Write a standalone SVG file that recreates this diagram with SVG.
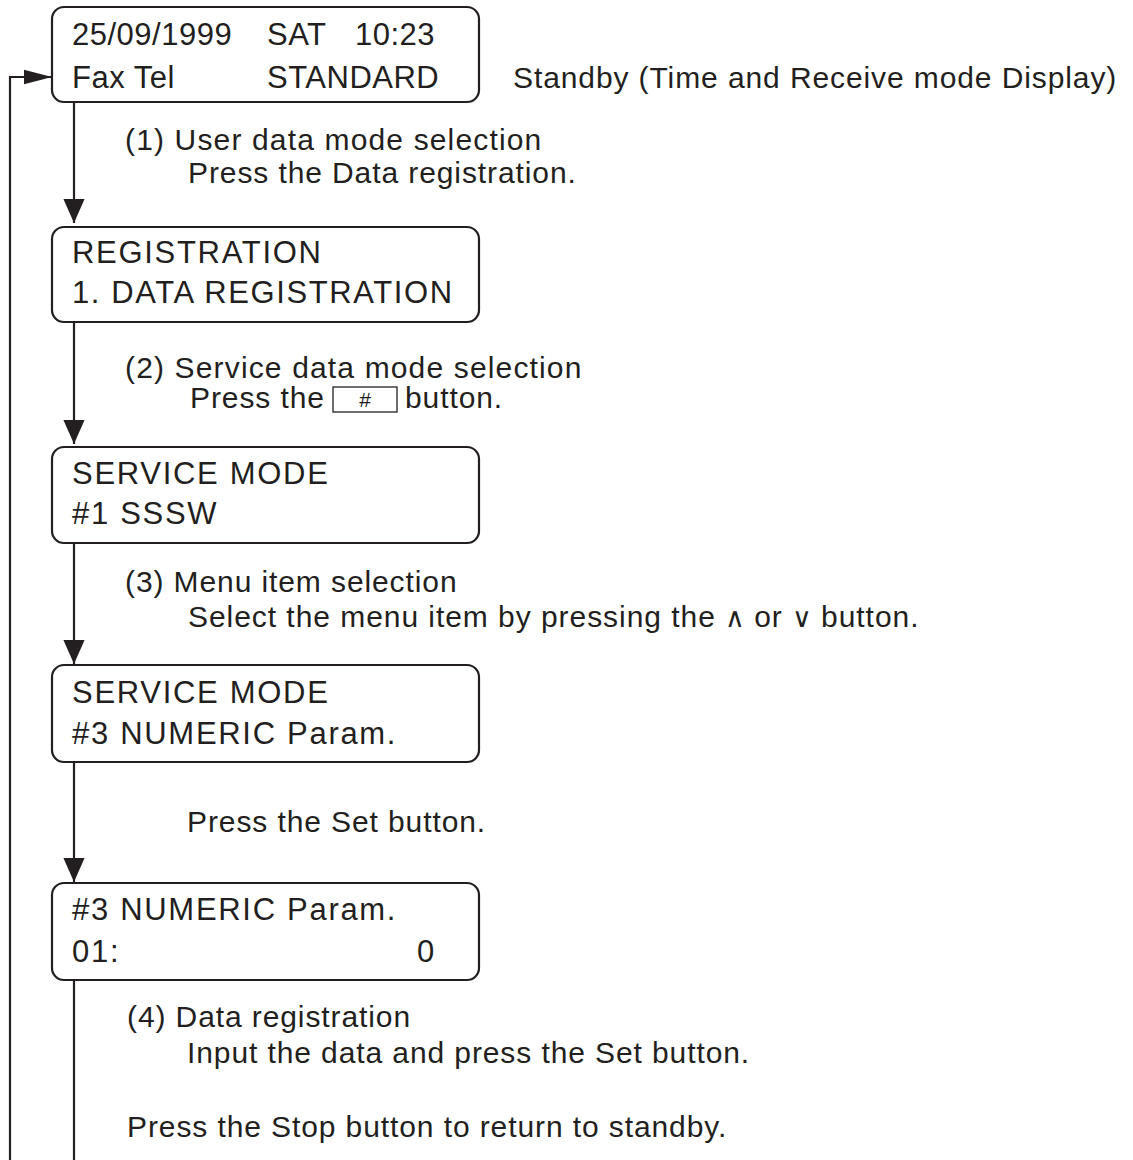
<svg xmlns="http://www.w3.org/2000/svg" width="1133" height="1160" viewBox="0 0 1133 1160">
<style>
.box{fill:#fff;stroke:#231f20;stroke-width:2.2}
.bt{font-family:"Liberation Sans",Arial,sans-serif;font-size:31px;letter-spacing:0.5px;fill:#231f20}
.bw{letter-spacing:1.7px}
.dt{font-family:"Liberation Sans",Arial,sans-serif;font-size:30px;letter-spacing:0.9px;fill:#231f20}
.dw{letter-spacing:1.15px}
.ln{fill:none;stroke:#231f20;stroke-width:2.2}
.sym{font-family:"DejaVu Sans",sans-serif;font-size:27px;letter-spacing:0}
</style>
<defs>
<marker id="ah" markerUnits="userSpaceOnUse" markerWidth="24" markerHeight="28" refX="25" refY="11" orient="auto" viewBox="0 0 25 22">
<path d="M0,0 L25,11 L0,22 Z" fill="#231f20"/>
</marker>
<marker id="ahs" markerUnits="userSpaceOnUse" markerWidth="28" markerHeight="16" refX="27" refY="7" orient="auto" viewBox="0 0 27 14">
<path d="M0,0 L27,7 L0,14 Z" fill="#231f20"/>
</marker>
</defs>
<g id="connectors">
<line class="ln" x1="74" y1="102" x2="74" y2="223" marker-end="url(#ah)"/>
<line class="ln" x1="74" y1="322" x2="74" y2="444" marker-end="url(#ah)"/>
<line class="ln" x1="74" y1="543" x2="74" y2="664" marker-end="url(#ah)"/>
<line class="ln" x1="74" y1="762" x2="74" y2="882" marker-end="url(#ah)"/>
<line class="ln" x1="74" y1="980" x2="74" y2="1160"/>
<path class="ln" d="M10,1160 V77 H52" marker-end="url(#ahs)"/>
</g>
<g id="standby">
<rect class="box" x="52" y="7" width="427" height="95" rx="12"/>
<text class="bt" x="72" y="45">25/09/1999</text>
<text class="bt" x="267" y="45">SAT</text>
<text class="bt" x="355" y="45">10:23</text>
<text class="bt" x="72" y="88">Fax Tel</text>
<text class="bt" x="267" y="88">STANDARD</text>
</g>
<text class="dt" x="513" y="88">Standby (Time and Receive mode Display)</text>
<g id="label1">
<text class="dt dw" x="125" y="150">(1) User data mode selection</text>
<text class="dt" x="188" y="183">Press the Data registration.</text>
</g>
<g id="registration">
<rect class="box" x="52" y="227" width="427" height="95" rx="12"/>
<text class="bt bw" x="72" y="263">REGISTRATION</text>
<text class="bt" x="72" y="303" style="letter-spacing:1.6px">1. DATA REGISTRATION</text>
</g>
<g id="label2">
<text class="dt dw" x="125" y="378">(2) Service data mode selection</text>
<text class="dt" x="190" y="408">Press the</text>
<rect x="333" y="387" width="64" height="25" fill="#fff" stroke="#231f20" stroke-width="1.3"/>
<text x="365" y="407" text-anchor="middle" font-family="Liberation Sans,Arial,sans-serif" font-size="21" fill="#231f20">#</text>
<text class="dt" x="405" y="408">button.</text>
</g>
<g id="service1">
<rect class="box" x="52" y="447" width="427" height="96" rx="12"/>
<text class="bt bw" x="72" y="484">SERVICE MODE</text>
<text class="bt bw" x="72" y="524">#1 SSSW</text>
</g>
<g id="label3">
<text class="dt" x="125" y="592">(3) Menu item selection</text>
<text class="dt" x="188" y="627" style="letter-spacing:0.95px">Select the menu item by pressing the <tspan class="sym">∧</tspan> or <tspan class="sym">∨</tspan> button.</text>
</g>
<g id="service3">
<rect class="box" x="52" y="665" width="427" height="97" rx="12"/>
<text class="bt bw" x="72" y="703">SERVICE MODE</text>
<text class="bt bw" x="72" y="744">#3 NUMERIC Param.</text>
</g>
<text class="dt" x="187" y="832">Press the Set button.</text>
<g id="numeric">
<rect class="box" x="52" y="883" width="427" height="97" rx="12"/>
<text class="bt bw" x="72" y="920">#3 NUMERIC Param.</text>
<text class="bt bw" x="72" y="962">01:</text>
<text class="bt" x="417" y="962">0</text>
</g>
<g id="label4">
<text class="dt" x="127" y="1027">(4) Data registration</text>
<text class="dt" x="187" y="1063">Input the data and press the Set button.</text>
<text class="dt" x="127" y="1137">Press the Stop button to return to standby.</text>
</g>
</svg>
